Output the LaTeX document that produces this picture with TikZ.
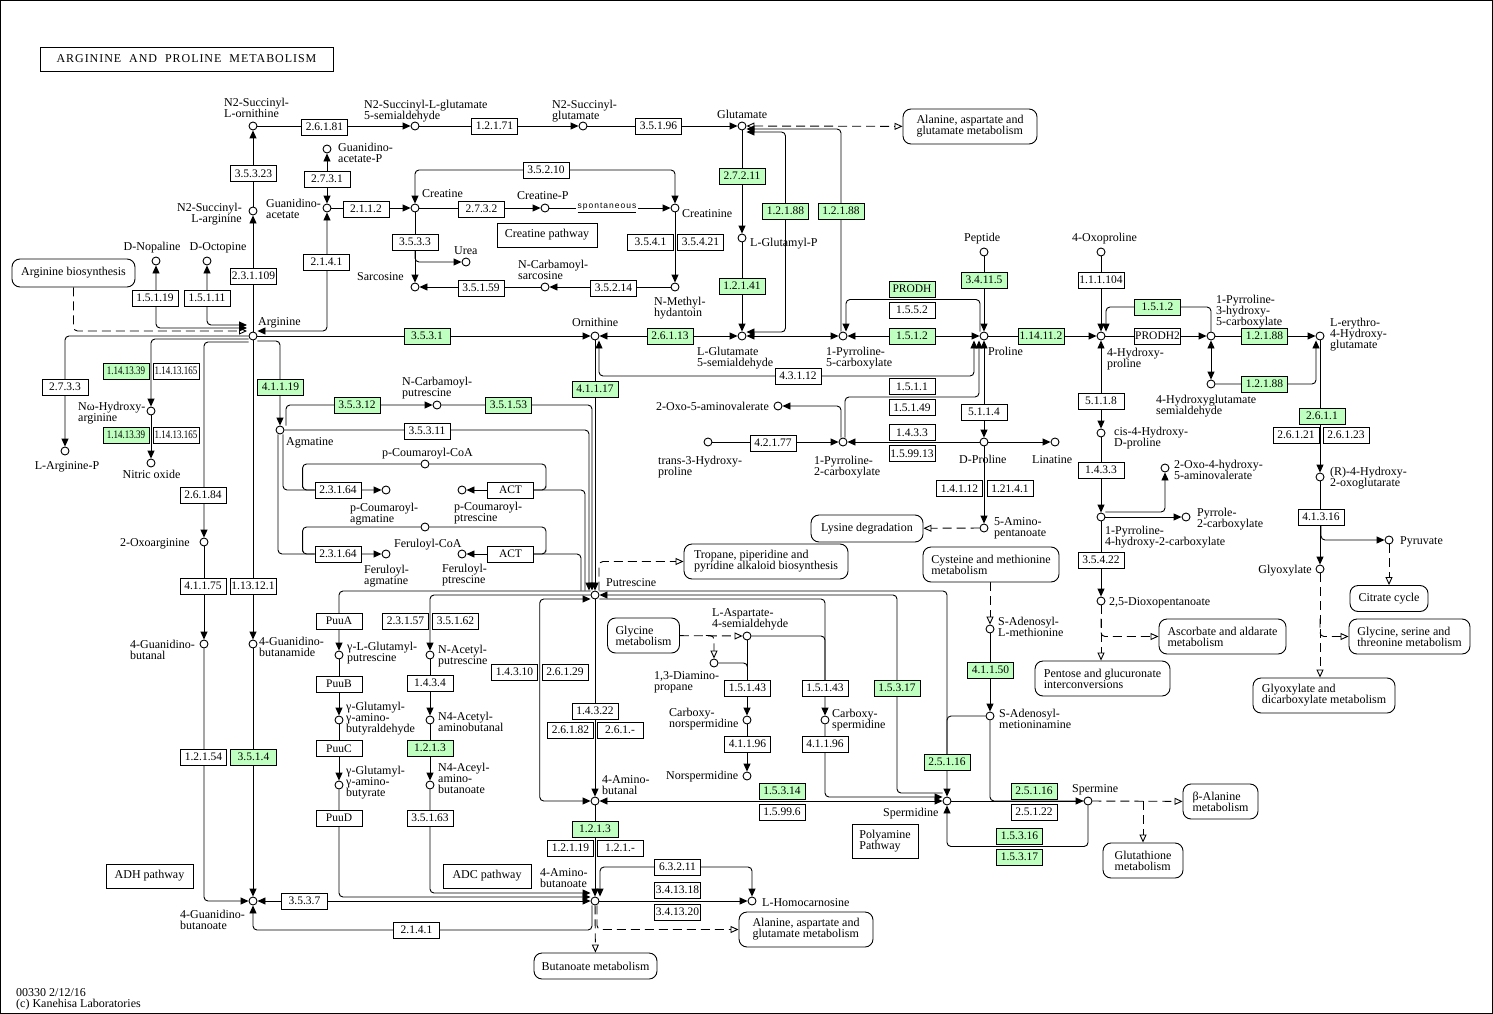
\documentclass[tikz,border=0pt]{standalone}
\usepackage{fontspec}
\setmainfont{Liberation Serif}
\newfontfamily\smallsans{Liberation Sans}
\usetikzlibrary{arrows.meta,calc}
\definecolor{kgreen}{HTML}{BFFFBF}
\pgfdeclarelayer{bg}
\pgfsetlayers{bg,main}
\tikzset{
	cpd/.style={circle,draw,fill=white,minimum size=8pt,inner sep=0pt,line width=0.9pt},
	enz/.style={draw,fill=white,minimum width=46pt,minimum height=16pt,inner sep=0pt,line width=0.9pt,font=\fontsize{11.5}{11.5}\selectfont},
	ko/.style={enz,fill=kgreen},
	pmap/.style={draw,rounded corners=8pt,fill=white,align=left,inner sep=0pt,line width=0.9pt},
	pbox/.style={draw,fill=white,align=left,inner sep=0pt,line width=0.9pt},
	lab/.style={inner sep=0pt,align=left},
	lnk/.style={dash pattern=on 9pt off 5pt,-{Triangle[open,length=8pt,width=7pt]}},
	lnkb/.style={dash pattern=on 9pt off 5pt,{Triangle[open,length=8pt,width=7pt]}-{Triangle[open,length=8pt,width=7pt]}},
}
\newcommand{\narrow}[1]{\scalebox{0.78}[1]{#1}}
\begin{document}
\begin{tikzpicture}[x=1pt,y=-1pt,font=\fontsize{12}{11}\selectfont,>={Triangle[length=8pt,width=7pt]}]
	\useasboundingbox (0,0) rectangle (1493,1014);
	\draw[line width=1pt] (0.5,0.5) rectangle (1492,1013);
	\node[pbox,minimum width=293pt,minimum height=24pt,font=\fontsize{12}{12}\selectfont\addfontfeature{LetterSpace=8}] (title) at (186.5,59) {ARGININE\ \ AND\ \ PROLINE\ \ METABOLISM};
	\node[lab,anchor=north west] (foot) at (16,988) {00330 2/12/16\\(c) Kanehisa Laboratories};

	\node[cpd] (n2so) at (253,126) {};
	\node[cpd] (n2sgs) at (415,126) {};
	\node[cpd] (n2sg) at (583,126) {};
	\node[cpd] (glu) at (742,126) {};
	\node[cpd] (gap) at (327,149) {};
	\node[cpd] (gaa) at (327,208) {};
	\node[cpd] (n2sa) at (253,211) {};
	\node[cpd] (cre) at (415,208) {};
	\node[cpd] (crp) at (545,208) {};
	\node[cpd] (crn) at (675,208) {};
	\node[cpd] (urea) at (466,262) {};
	\node[cpd] (sar) at (415,287) {};
	\node[cpd] (ncs) at (545,287) {};
	\node[cpd] (nmh) at (675,287) {};
	\node[cpd] (lgp) at (742,238) {};
	\node[cpd] (nop) at (156,261) {};
	\node[cpd] (oct) at (207,261) {};
	\node[cpd] (arg) at (253,336) {};
	\node[cpd] (orn) at (595,336) {};
	\node[cpd] (gsa) at (742,336) {};
	\node[cpd] (p5c) at (843,336) {};
	\node[cpd] (pep) at (984,252) {};
	\node[cpd] (pro) at (984,336) {};
	\node[cpd] (oxp) at (1101,252) {};
	\node[cpd] (hyp) at (1101,336) {};
	\node[cpd] (p3h) at (1211,336) {};
	\node[cpd] (ehg) at (1320,336) {};
	\node[cpd] (hgs) at (1211,384) {};
	\node[cpd] (rhog) at (1320,477) {};
	\node[cpd] (pyr) at (1389,540) {};
	\node[cpd] (glx) at (1320,569) {};
	\node[cpd] (chdp) at (1101,433) {};
	\node[cpd] (ohav) at (1165,468) {};
	\node[cpd] (p4h) at (1101,517) {};
	\node[cpd] (ppc) at (1186,517) {};
	\node[cpd] (dop) at (1101,601) {};
	\node[cpd] (oav) at (778,406) {};
	\node[cpd] (thp) at (708,442) {};
	\node[cpd] (p2c) at (843,442) {};
	\node[cpd] (dpro) at (984,442) {};
	\node[cpd] (lin) at (1055,442) {};
	\node[cpd] (apn) at (984,528) {};
	\node[cpd] (same) at (990,629) {};
	\node[cpd] (ama) at (990,716) {};
	\node[cpd] (spd) at (947,801) {};
	\node[cpd] (spm) at (1088,801) {};
	\node[cpd] (a4b) at (595,801) {};
	\node[cpd] (gaba) at (595,901) {};
	\node[cpd] (hcar) at (752,901) {};
	\node[cpd] (put) at (595,595) {};
	\node[cpd] (lasa) at (747,636) {};
	\node[cpd] (dap) at (714,663) {};
	\node[cpd] (cnspd) at (747,720) {};
	\node[cpd] (nspd) at (747,776) {};
	\node[cpd] (cspd) at (825,720) {};
	\node[cpd] (agm) at (280,430) {};
	\node[cpd] (ncp) at (437,405) {};
	\node[cpd] (pcc) at (425,464) {};
	\node[cpd] (pca) at (386,490) {};
	\node[cpd] (pcp) at (462,490) {};
	\node[cpd] (fec) at (425,527) {};
	\node[cpd] (fea) at (386,554) {};
	\node[cpd] (fep) at (462,554) {};
	\node[cpd] (nha) at (151,411) {};
	\node[cpd] (nox) at (151,463) {};
	\node[cpd] (argp) at (65,451) {};
	\node[cpd] (oxa) at (204,542) {};
	\node[cpd] (gbal) at (204,644) {};
	\node[cpd] (gbam) at (253,644) {};
	\node[cpd] (gba) at (253,901) {};
	\node[cpd] (glp) at (339,655) {};
	\node[cpd] (ggab) at (339,720) {};
	\node[cpd] (gga) at (339,785) {};
	\node[cpd] (nap) at (430,655) {};
	\node[cpd] (naab) at (430,720) {};
	\node[cpd] (naabo) at (430,785) {};

	\node[lab,anchor=north west] (ln2so) at (224,98) {N2-Succinyl-\\L-ornithine};
	\node[lab,anchor=north west] (ln2sgs) at (364,100) {N2-Succinyl-L-glutamate\\5-semialdehyde};
	\node[lab,anchor=north west] (ln2sg) at (552,100) {N2-Succinyl-\\glutamate};
	\node[lab,anchor=north west] (lglu) at (717,110) {Glutamate};
	\node[lab,anchor=north west] (lgap) at (338,143) {Guanidino-\\acetate-P};
	\node[lab,align=right,anchor=north east] (ln2sa) at (242,203) {N2-Succinyl-\\L-arginine};
	\node[lab,anchor=north west] (lgaa) at (266,199) {Guanidino-\\acetate};
	\node[lab,anchor=north west] (lcre) at (422,189) {Creatine};
	\node[lab,anchor=north west] (lcrp) at (517,191) {Creatine-P};
	\node[lab,anchor=north west] (lcrn) at (682,209) {Creatinine};
	\node[lab,anchor=north west] (lurea) at (454,246) {Urea};
	\node[lab,anchor=north east] (lsar) at (404,272) {Sarcosine};
	\node[lab,anchor=north west] (lncs) at (518,260) {N-Carbamoyl-\\sarcosine};
	\node[lab,anchor=north west] (lnmh) at (654,297) {N-Methyl-\\hydantoin};
	\node[lab,anchor=north] (lnop) at (152,242) {D-Nopaline};
	\node[lab,anchor=north] (loct) at (218,242) {D-Octopine};
	\node[lab,anchor=north west] (larg) at (258,317) {Arginine};
	\node[lab,anchor=north west] (lorn) at (572,318) {Ornithine};
	\node[lab,anchor=north west] (lgsa) at (697,347) {L-Glutamate\\5-semialdehyde};
	\node[lab,anchor=north west] (llgp) at (750,238) {L-Glutamyl-P};
	\node[lab,anchor=north west] (lp5c) at (826,347) {1-Pyrroline-\\5-carboxylate};
	\node[lab,anchor=north west] (lpep) at (964,233) {Peptide};
	\node[lab,anchor=north west] (loxp) at (1072,233) {4-Oxoproline};
	\node[lab,anchor=north west] (lpro) at (988,347) {Proline};
	\node[lab,anchor=north west] (lhyp) at (1107,348) {4-Hydroxy-\\proline};
	\node[lab,anchor=north west] (lp3h) at (1216,295) {1-Pyrroline-\\3-hydroxy-\\5-carboxylate};
	\node[lab,anchor=north west] (lehg) at (1330,318) {L-erythro-\\4-Hydroxy-\\glutamate};
	\node[lab,anchor=north west] (lhgs) at (1156,395) {4-Hydroxyglutamate\\semialdehyde};
	\node[lab,anchor=north west] (lnha) at (78,402) {Nω-Hydroxy-\\arginine};
	\node[lab,anchor=north] (largp) at (67,461) {L-Arginine-P};
	\node[lab,anchor=north] (lnox) at (151.5,470) {Nitric oxide};
	\node[lab,anchor=north west] (lagm) at (286,437) {Agmatine};
	\node[lab,anchor=north east] (loxa) at (190,538) {2-Oxoarginine};
	\node[lab,anchor=north west] (lgbal) at (130,640) {4-Guanidino-\\butanal};
	\node[lab,anchor=north west] (lgbam) at (259,637) {4-Guanidino-\\butanamide};
	\node[lab,anchor=north west] (lncp) at (402,377) {N-Carbamoyl-\\putrescine};
	\node[lab,anchor=north west] (lpcc) at (382,448) {p-Coumaroyl-CoA};
	\node[lab,anchor=north west] (lpca) at (350,503) {p-Coumaroyl-\\agmatine};
	\node[lab,anchor=north west] (lpcp) at (454,502) {p-Coumaroyl-\\ptrescine};
	\node[lab,anchor=north west] (lfec) at (394,539) {Feruloyl-CoA};
	\node[lab,anchor=north west] (lfea) at (364,565) {Feruloyl-\\agmatine};
	\node[lab,anchor=north west] (lfep) at (442,564) {Feruloyl-\\ptrescine};
	\node[lab,anchor=north west] (lput) at (606,578) {Putrescine};
	\node[lab,anchor=north west] (lglp) at (347,642) {γ-L-Glutamyl-\\putrescine};
	\node[lab,anchor=north west] (lggab) at (346,702) {γ-Glutamyl-\\γ-amino-\\butyraldehyde};
	\node[lab,anchor=north west] (lgga) at (346,766) {γ-Glutamyl-\\γ-amino-\\butyrate};
	\node[lab,anchor=north west] (lnap) at (438,645) {N-Acetyl-\\putrescine};
	\node[lab,anchor=north west] (lnaab) at (438,712) {N4-Acetyl-\\aminobutanal};
	\node[lab,anchor=north west] (lnaabo) at (438,763) {N4-Aceyl-\\amino-\\butanoate};
	\node[lab,anchor=north west] (loav) at (656,402) {2-Oxo-5-aminovalerate};
	\node[lab,anchor=north west] (lthp) at (658,456) {trans-3-Hydroxy-\\proline};
	\node[lab,anchor=north west] (lp2c) at (814,456) {1-Pyrroline-\\2-carboxylate};
	\node[lab,anchor=north west] (ldpro) at (959,455) {D-Proline};
	\node[lab,anchor=north west] (llin) at (1032,455) {Linatine};
	\node[lab,anchor=north west] (lapn) at (994,517) {5-Amino-\\pentanoate};
	\node[lab,anchor=north west] (lsame) at (998,617) {S-Adenosyl-\\L-methionine};
	\node[lab,anchor=north west] (lama) at (999,709) {S-Adenosyl-\\metioninamine};
	\node[lab,anchor=north west] (lchdp) at (1114,427) {cis-4-Hydroxy-\\D-proline};
	\node[lab,anchor=north west] (lohav) at (1174,460) {2-Oxo-4-hydroxy-\\5-aminovalerate};
	\node[lab,anchor=north west] (lppc) at (1197,508) {Pyrrole-\\2-carboxylate};
	\node[lab,anchor=north west] (lp4h) at (1105,526) {1-Pyrroline-\\4-hydroxy-2-carboxylate};
	\node[lab,anchor=north west] (ldop) at (1109,597) {2,5-Dioxopentanoate};
	\node[lab,anchor=north west] (lrhog) at (1330,467) {(R)-4-Hydroxy-\\2-oxoglutarate};
	\node[lab,anchor=north west] (lpyr) at (1400,536) {Pyruvate};
	\node[lab,anchor=north east] (lglx) at (1312,565) {Glyoxylate};
	\node[lab,anchor=north west] (llasa) at (712,608) {L-Aspartate-\\4-semialdehyde};
	\node[lab,anchor=north west] (ldap) at (654,671) {1,3-Diamino-\\propane};
	\node[lab,anchor=north west] (lcnspd) at (669,708) {Carboxy-\\norspermidine};
	\node[lab,anchor=north west] (lnspd) at (666,771) {Norspermidine};
	\node[lab,anchor=north west] (lcspd) at (832,709) {Carboxy-\\spermidine};
	\node[lab,anchor=north west] (lspd) at (883,808) {Spermidine};
	\node[lab,anchor=north west] (lspm) at (1072,784) {Spermine};
	\node[lab,anchor=north west] (la4b) at (602,775) {4-Amino-\\butanal};
	\node[lab,anchor=north west] (lgaba) at (540,868) {4-Amino-\\butanoate};
	\node[lab,anchor=north west] (lhcar) at (762,898) {L-Homocarnosine};
	\node[lab,anchor=north west] (lgba) at (180,910) {4-Guanidino-\\butanoate};
	\node[fill=white,inner sep=1.5pt,font=\smallsans\fontsize{8.5}{9}\selectfont\addfontfeature{LetterSpace=12}] (spon) at (607,208) {\underline{spontaneous}};

	\node[enz] (e26181) at (324.5,127) {2.6.1.81};
	\node[enz] (e12171) at (494.5,126) {1.2.1.71};
	\node[enz] (e35196) at (658.5,126) {3.5.1.96};
	\node[enz] (e35323) at (253.5,173.5) {3.5.3.23};
	\node[enz] (e2731) at (327,179) {2.7.3.1};
	\node[enz] (e2112) at (366,209) {2.1.1.2};
	\node[enz] (e231109) at (253.5,276) {2.3.1.109};
	\node[enz] (e2141a) at (326.5,262) {2.1.4.1};
	\node[enz] (e15119) at (155,298) {1.5.1.19};
	\node[enz] (e15111) at (207,298) {1.5.1.11};
	\node[enz] (e35210) at (546,170) {3.5.2.10};
	\node[enz] (e2732) at (481.5,209) {2.7.3.2};
	\node[enz] (e3533) at (415,242) {3.5.3.3};
	\node[enz] (e35159) at (481,288) {3.5.1.59};
	\node[enz] (e35214) at (613.5,288) {3.5.2.14};
	\node[enz] (e3541) at (650.5,242) {3.5.4.1};
	\node[enz] (e35421) at (700.5,242) {3.5.4.21};
	\node[ko] (e27211) at (742,176) {2.7.2.11};
	\node[ko] (e12188a) at (785.5,211) {1.2.1.88};
	\node[ko] (e12188b) at (841,211) {1.2.1.88};
	\node[ko] (e12141) at (742,286) {1.2.1.41};
	\node[ko] (e3531) at (427,336) {3.5.3.1};
	\node[ko] (e26113) at (670,336) {2.6.1.13};
	\node[enz] (e4312) at (798,376) {4.3.1.12};
	\node[ko] (prodh) at (912,289) {PRODH};
	\node[enz] (e1552) at (912,310) {1.5.5.2};
	\node[ko] (e1512a) at (912,336) {1.5.1.2};
	\node[ko] (e34115) at (984,280) {3.4.11.5};
	\node[ko] (e114112) at (1041,336) {1.14.11.2};
	\node[enz] (e111104) at (1101,280) {1.1.1.104};
	\node[ko] (e1512b) at (1157.5,307) {1.5.1.2};
	\node[enz] (prodh2) at (1157.5,336) {PRODH2};
	\node[ko] (e12188c) at (1264.5,336) {1.2.1.88};
	\node[ko] (e12188d) at (1264.5,384) {1.2.1.88};
	\node[ko] (e2611) at (1322,416) {2.6.1.1};
	\node[enz] (e26121) at (1296,435) {2.6.1.21};
	\node[enz] (e26123) at (1346,435) {2.6.1.23};
	\node[enz] (e41316) at (1321,517) {4.1.3.16};
	\node[enz] (e5118) at (1101,401) {5.1.1.8};
	\node[enz] (e1433b) at (1101,470) {1.4.3.3};
	\node[enz] (e35422) at (1101,560) {3.5.4.22};
	\node[enz] (e1511) at (912,386.5) {1.5.1.1};
	\node[enz] (e15149) at (912,407.5) {1.5.1.49};
	\node[enz] (e1433a) at (912,432.5) {1.4.3.3};
	\node[enz] (e159913) at (912,453.5) {1.5.99.13};
	\node[enz] (e5114) at (984,412) {5.1.1.4};
	\node[enz] (e42177) at (773,443) {4.2.1.77};
	\node[enz] (e14112) at (959.5,488.5) {1.4.1.12};
	\node[enz] (e12141b) at (1010,488.5) {1.21.4.1};
	\node[ko] (e41150) at (990.5,670) {4.1.1.50};
	\node[ko] (e25116a) at (947,762) {2.5.1.16};
	\node[ko] (e25116b) at (1034,791) {2.5.1.16};
	\node[enz] (e25122) at (1034,812) {2.5.1.22};
	\node[ko] (e15316) at (1019.5,836) {1.5.3.16};
	\node[ko] (e15317b) at (1019.5,857) {1.5.3.17};
	\node[ko] (e15314) at (782,791) {1.5.3.14};
	\node[enz] (e15996) at (782,812) {1.5.99.6};
	\node[enz] (e15143a) at (747.5,688) {1.5.1.43};
	\node[enz] (e15143b) at (825,688) {1.5.1.43};
	\node[ko] (e15317a) at (897,688) {1.5.3.17};
	\node[enz] (e41196a) at (747.5,744) {4.1.1.96};
	\node[enz] (e41196b) at (825,744) {4.1.1.96};
	\node[enz] (e14322) at (595,711) {1.4.3.22};
	\node[enz] (e26182) at (570.5,730) {2.6.1.82};
	\node[enz] (e261x) at (620,730) {2.6.1.-};
	\node[ko] (e1213b) at (595,829) {1.2.1.3};
	\node[enz] (e12119) at (570.5,848) {1.2.1.19};
	\node[enz] (e121x) at (620,848) {1.2.1.-};
	\node[enz] (e63211) at (677.5,867) {6.3.2.11};
	\node[enz] (e341318) at (677.5,890) {3.4.13.18};
	\node[enz] (e341320) at (677.5,912) {3.4.13.20};
	\node[enz] (e2141b) at (416.5,930) {2.1.4.1};
	\node[enz] (e3537) at (304.5,901) {3.5.3.7};
	\node[enz] (e12154) at (203.5,757) {1.2.1.54};
	\node[ko] (e3514) at (253.5,757) {3.5.1.4};
	\node[enz] (e41175) at (203,586) {4.1.1.75};
	\node[enz] (e113121) at (253,586) {1.13.12.1};
	\node[enz] (e26184) at (203,495) {2.6.1.84};
	\node[enz] (e2733) at (65,387) {2.7.3.3};
	\node[ko] (e1141339a) at (126,371) {\narrow{1.14.13.39}};
	\node[enz] (e11413165a) at (176,371) {\narrow{1.14.13.165}};
	\node[ko] (e1141339b) at (126,435) {\narrow{1.14.13.39}};
	\node[enz] (e11413165b) at (176,435) {\narrow{1.14.13.165}};
	\node[ko] (e41119) at (280.5,387) {4.1.1.19};
	\node[ko] (e35312) at (357,405) {3.5.3.12};
	\node[ko] (e35153) at (508.5,405) {3.5.1.53};
	\node[enz] (e35311) at (427,431) {3.5.3.11};
	\node[ko] (e41117) at (595,389) {4.1.1.17};
	\node[enz] (e23164a) at (338,490) {2.3.1.64};
	\node[enz] (e23164b) at (338,554) {2.3.1.64};
	\node[enz] (act1) at (510.5,490) {ACT};
	\node[enz] (act2) at (510.5,554) {ACT};
	\node[enz] (puua) at (339,621) {PuuA};
	\node[enz] (puub) at (339,684) {PuuB};
	\node[enz] (puuc) at (339,748.5) {PuuC};
	\node[enz] (puud) at (339,818) {PuuD};
	\node[enz] (e23157) at (405.5,621) {2.3.1.57};
	\node[enz] (e35162) at (455.5,621) {3.5.1.62};
	\node[enz] (e1434) at (430,683) {1.4.3.4};
	\node[ko] (e1213a) at (430,748) {1.2.1.3};
	\node[enz] (e35163) at (430,818) {3.5.1.63};
	\node[enz] (e14310) at (514.5,672) {1.4.3.10};
	\node[enz] (e26129) at (565,672) {2.6.1.29};

	\node[pmap,minimum width=134pt,minimum height=35pt] (mala1) at (970,126.5) {Alanine, aspartate and\\glutamate metabolism};
	\node[pmap,minimum width=123pt,minimum height=28pt] (margb) at (73.5,273) {Arginine biosynthesis};
	\node[pmap,minimum width=112pt,minimum height=27pt] (mlys) at (867,528.5) {Lysine degradation};
	\node[pmap,minimum width=164pt,minimum height=35pt] (mtrop) at (766,561.5) {Tropane, piperidine and\\pyridine alkaloid biosynthesis};
	\node[pmap,minimum width=136pt,minimum height=35pt] (mcys) at (991,564.5) {Cysteine and methionine\\metabolism};
	\node[pmap,minimum width=72pt,minimum height=35pt] (mgly) at (643.5,635.5) {Glycine\\metabolism};
	\node[pmap,minimum width=135pt,minimum height=35pt] (mpent) at (1102.5,678.5) {Pentose and glucuronate\\interconversions};
	\node[pmap,minimum width=127pt,minimum height=35pt] (masc) at (1222.5,636.5) {Ascorbate and aldarate\\metabolism};
	\node[pmap,minimum width=78pt,minimum height=26pt] (mcit) at (1389,598.5) {Citrate cycle};
	\node[pmap,minimum width=121pt,minimum height=35pt] (mgst) at (1409.5,636.5) {Glycine, serine and\\threonine metabolism};
	\node[pmap,minimum width=142pt,minimum height=35pt] (mglx) at (1324,695.5) {Glyoxylate and\\dicarboxylate metabolism};
	\node[pmap,minimum width=75pt,minimum height=35pt] (mbal) at (1220.5,801.5) {β-Alanine\\metabolism};
	\node[pmap,minimum width=80pt,minimum height=35pt] (mgsh) at (1143,860.5) {Glutathione\\metabolism};
	\node[pmap,minimum width=123pt,minimum height=26pt] (mbut) at (595.5,966) {Butanoate metabolism};
	\node[pmap,minimum width=134pt,minimum height=35pt] (mala2) at (806,929.5) {Alanine, aspartate and\\glutamate metabolism};
	\node[pbox,minimum width=100pt,minimum height=24pt] (crpath) at (547,235) {Creatine pathway};
	\node[pbox,minimum width=87pt,minimum height=24pt] (adh) at (149.5,876) {ADH pathway};
	\node[pbox,minimum width=88pt,minimum height=24pt] (adc) at (487,876) {ADC pathway};
	\node[pbox,minimum width=66pt,minimum height=34pt] (polya) at (885,841) {Polyamine\\Pathway};

	\coordinate (prodhgap) at ($(prodh.south)!0.5!(e1552.north)$);
	\coordinate (p15gap) at ($(e1511.south)!0.5!(e15149.north)$);
	\coordinate (spmgap) at ($(e15316.south)!0.5!(e15317b.north)$);
	\coordinate (gabgap) at ($(e14310.east)!0.5!(e26129.west)$);
	\coordinate (argO) at ($(arg)+(-6,-11)$);
	\coordinate (argN) at ($(arg)+(-6,-8)$);
	\coordinate (argD) at ($(arg)+(-6,-5)$);
	\coordinate (glyb) at ($(mgly.east)+(26,0)$);

	\begin{pgfonlayer}{bg}
	\begin{scope}[line width=0.9pt,rounded corners=4pt]
	\draw[->] (n2so) -- (n2sgs);
	\draw[->] (n2sgs) -- (n2sg);
	\draw[->] (n2sg) -- (glu);
	\draw[lnkb] (glu) -- (mala1);
	\draw[->] (arg) -- (n2sa);
	\draw[->] (n2sa) -- (n2so);
	\draw[<->] ([yshift=5pt]arg.east) -| (gaa);
	\draw[<->] (gaa) -- (gap);
	\draw[->] (gaa) -- (cre);
	\draw[->] (cre) -- (crp);
	\draw[->] (crp) -- (crn);
	\draw[<->] (cre) |- (e35210.center) -| (crn);
	\draw[->] (cre) -- (sar);
	\draw[->] (e3533.south) |- (urea);
	\draw[->] (ncs) -- (sar);
	\draw[->] (nmh) -- (ncs);
	\draw[->] (crn) -- (nmh);
	\draw[<->] (argO) -| (oct);
	\draw[<->] (argN) -| (nop);
	\draw[lnk] (margb) |- (argD);
	\draw[->] (arg) -| (argp);
	\draw[->] ([yshift=-3pt]arg.west) -| (nha);
	\draw[->] ([yshift=-6pt]arg.west) -| (oxa);
	\draw[->] (nha) -- (nox);
	\draw[->] (oxa) -- (gbal);
	\draw[->] (gbal) |- (gba);
	\draw[->] (arg) -- (gbam);
	\draw[->] (gbam) -- (gba);
	\draw[->] ([yshift=-5pt]arg.east) -| (agm);
	\draw[->] (arg) -- (orn);
	\draw[<->] (gba) -- (gaba);
	\draw[->] (gga) |- ([yshift=4pt]gaba.west);
	\draw[->] (naabo) |- ([yshift=8pt]gaba.west);
	\draw[->] ([xshift=-3pt]gaba.south) |- (e2141b.center) -| (gba);
	\draw[<->] (orn) -- (gsa);
	\draw[->] (orn) -- (put);
	\draw[<->] ([xshift=4pt]orn.south) |- (e4312.center) -| ([xshift=-10pt]pro.south);
	\draw[<->] (gsa) -- (p5c);
	\draw[<->] (p5c) -- (pro);
	\draw[->] ([xshift=-4pt]pro.north) |- (prodhgap) -| ([xshift=3pt]p5c.north);
	\draw[->] (pep) -- (pro);
	\draw[->] (pro) -- (hyp);
	\draw[->] (oxp) -- (hyp);
	\draw[->] (p3h) |- (e1512b.center) -| ([xshift=5pt]hyp.north);
	\draw[->] (hyp) -- (p3h);
	\draw[->] (p3h) -- (ehg);
	\draw[<->] (p3h) -- (hgs);
	\draw[->] (hgs) -| ([xshift=-4pt]ehg.south);
	\draw[->] (ehg) -- (rhog);
	\draw[->] (rhog) -- (glx);
	\draw[->] (e41316.south) |- (pyr);
	\draw[lnk] (pyr) -- (mcit);
	\draw[lnk] (glx) -- (glx |- mglx.north);
	\draw[lnk] (glx |- mgst.north) |- (mgst.west);
	\draw[<->] (hyp) -- (chdp);
	\draw[->] (chdp) -- (p4h);
	\draw[->] ([yshift=5pt]p4h.east) -| (ohav);
	\draw[->] (p4h) -- (ppc);
	\draw[->] (p4h) -- (dop);
	\draw[lnk] (dop) -- (dop |- mpent.north);
	\draw[lnk] (dop |- masc.north) |- (masc.west);
	\draw[->] ([xshift=2pt]p2c.north) |- (p15gap) -| ([xshift=-5pt]pro.south);
	\draw[->] ([xshift=-2pt]p2c.north) |- (oav);
	\draw[->] (thp) -- (p2c);
	\draw[->] (dpro) -- (p2c);
	\draw[<->] (pro) -- (dpro);
	\draw[->] (dpro) -- (lin);
	\draw[->] (dpro) -- (apn);
	\draw[lnk] (apn) -- (mlys);
	\draw[lnk] (mcys.south -| same) -- (same);
	\draw[->] (same) -- (ama);
	\draw[->] ([yshift=4pt]put.east) -| (spd);
	\draw (ama) -| (e25116a.center);
	\draw (ama) |- (spm);
	\draw[->] (spd) -- (spm);
	\draw[->] (spm) |- (spmgap) -| (spd);
	\draw[lnk] (spm) -- (mbal);
	\draw[lnk] (mgsh.north |- spm) -- (mgsh.north);
	\draw[<->] (a4b) -- (spd);
	\draw[<-] (put.east) -| (e15317a.center) |- ([yshift=8pt]spd.west);
	\draw[->] (cspd) |- ([yshift=4pt]spd.west);
	\draw[->] ([yshift=-4pt]put.east) -| (cspd);
	\draw (lasa) -| (e15143b.center);
	\draw[->] (lasa) -- (cnspd);
	\draw (dap) -| (e15143a.center);
	\draw[->] (cnspd) -- (nspd);
	\draw[lnk] (mgly) -- (lasa);
	\draw[lnk] (glyb) -| (dap);
	\draw[lnk] ([xshift=4pt]put.north) |- (mtrop.west);
	\draw[->] ([yshift=4pt]put.west) -| (glp);
	\draw[->] (glp) -- (ggab);
	\draw[->] (ggab) -- (gga);
	\draw[->] (put.west) -| (nap);
	\draw[<->] (a4b) -| (gabgap) |- ([yshift=-4pt]put.west);
	\draw[->] (put) -- (a4b);
	\draw[->] (a4b) -- (gaba);
	\draw[->] (gaba) -- (hcar);
	\draw[<->] ([xshift=5pt]gaba.north) |- (e63211.center) -| (hcar);
	\draw[lnk] (gaba) -- (mbut);
	\draw[lnk] ([xshift=2pt]gaba.south) |- (mala2.west);
	\draw[->] ([xshift=6pt]agm.north) |- (ncp);
	\draw[->] (ncp) -| ([xshift=-3pt]put.north);
	\draw[->] (agm) -| ([xshift=-6pt]put.north);
	\draw[->] ([xshift=3pt]agm.south) |- (pca);
	\draw (pcc) -| ([xshift=-12pt]e23164a.west) |- (e23164a.west);
	\draw (pcc) -| ([xshift=12pt]act1.east) |- (act1.east);
	\draw ([xshift=-10pt]put.north) |- (act1);
	\draw[->] (act1) -- (pcp);
	\draw[->] ([xshift=-2pt]agm.south) |- (fea);
	\draw (fec) -| ([xshift=-12pt]e23164b.west) |- (e23164b.west);
	\draw (fec) -| ([xshift=12pt]act2.east) |- (act2.east);
	\draw ([xshift=-14pt]put.north) |- (act2);
	\draw[->] (act2) -- (fep);
	\draw[->] (nap) -- (naab);
	\draw[->] (naab) -- (naabo);
	\draw[->] (glu) -- (lgp);
	\draw[->] (lgp) -- (gsa);
	\draw[<->] ([yshift=4pt]gsa.east) -| (e12188a.center) |- ([yshift=-6pt]glu.east);
	\draw[->] ([xshift=-2pt]p5c.north) |- ([yshift=-3pt]glu.east);
	\end{scope}
	\end{pgfonlayer}
\end{tikzpicture}
\end{document}
